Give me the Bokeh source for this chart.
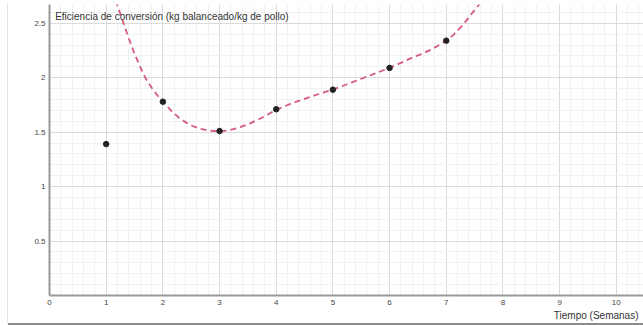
from bokeh.plotting import figure
from bokeh.models import FixedTicker, CustomJSTickFormatter, Label, Title
from bokeh.embed import file_html
from bokeh.resources import INLINE

# Measured data points (week, conversion efficiency)
semanas = [1, 2, 3, 4, 5, 6, 7]
eficiencia = [1.39, 1.78, 1.51, 1.71, 1.89, 2.09, 2.34]

# Fitted dashed curve
curva_x = [1.17, 1.20, 1.30, 1.40, 1.50, 1.60, 1.70, 1.80, 1.90, 2.00, 2.15, 2.30, 2.48,
           2.66, 2.83, 3.00, 3.18, 3.36, 3.54, 3.72, 3.86, 4.00, 4.25, 4.50, 4.75,
           5.00, 5.25, 5.50, 5.75, 6.00, 6.22, 6.42, 6.58, 6.72, 6.86, 7.00, 7.13,
           7.25, 7.34, 7.42, 7.50, 7.57, 7.62]
curva_y = [2.71, 2.66, 2.51, 2.36, 2.22, 2.10, 1.99, 1.91, 1.84, 1.78, 1.695, 1.625, 1.565,
           1.53, 1.513, 1.508, 1.518, 1.545, 1.58, 1.625, 1.665, 1.705, 1.76, 1.805, 1.85,
           1.89, 1.94, 1.99, 2.04, 2.09, 2.14, 2.19, 2.22, 2.255, 2.295, 2.34, 2.395,
           2.46, 2.515, 2.57, 2.62, 2.665, 2.72]

x_ticks = [0, 1, 2, 3, 4, 5, 6, 7, 8, 9, 10]
y_ticks = [0.5, 1, 1.5, 2, 2.5]

titulo = "Eficiencia de conversión (kg balanceado/kg de pollo)"
eje_x = "Tiempo (Semanas)"

FONT = "Liberation Sans"

p = figure(width=635, height=320, x_range=(0, 10.48), y_range=(0, 2.672),
           output_backend="svg", toolbar_location=None,
           min_border_left=41, min_border_right=0, min_border_top=1, min_border_bottom=28,
           background_fill_color="white", border_fill_color="white",
           outline_line_color=None, margin=(3, 0, 0, 8))
p.styles = {"box-shadow": "0 2px 0 #8a8a8a, -1px 0 0 #e2e2e2"}

# grid
minor_x = [i * 0.2 for i in range(0, 53)]
minor_y = [i * 0.1 for i in range(0, 27)]
p.xgrid.ticker = FixedTicker(ticks=x_ticks, minor_ticks=minor_x)
p.ygrid.ticker = FixedTicker(ticks=[0] + y_ticks, minor_ticks=minor_y)
for g in (p.xgrid, p.ygrid):
    g.grid_line_color = "#dadada"
    g.grid_line_width = 1
    g.minor_grid_line_color = "#f1f1f1"
    g.minor_grid_line_width = 1

# axes
p.xaxis.ticker = FixedTicker(ticks=x_ticks, minor_ticks=[])
p.yaxis.ticker = FixedTicker(ticks=y_ticks, minor_ticks=[])
p.xaxis.formatter = CustomJSTickFormatter(code="return tick.toString()")
p.yaxis.formatter = CustomJSTickFormatter(code="return tick.toString()")
for ax in (p.xaxis, p.yaxis):
    ax.axis_line_color = "#9a9a9a"
    ax.axis_line_width = 2
    ax.major_tick_in = 0
    ax.major_tick_out = 0
    ax.minor_tick_in = 0
    ax.minor_tick_out = 0
    ax.major_label_text_font = FONT
    ax.major_label_text_font_size = "8px"
    ax.major_label_text_color = "#444444"
p.xaxis.major_label_standoff = 4
p.yaxis.major_label_standoff = 4

# fitted curve and points
p.line(curva_x, curva_y, line_color="#d65a7a", line_width=1.8, line_dash="6 4")
p.scatter(semanas, eficiencia, size=5.5, color="#222222")

# texts
p.add_layout(Label(x=0.1, y=2.562, text=titulo, text_font=FONT, text_font_size="10px",
                   text_color="#333333", text_baseline="middle", text_align="left"))
p.add_layout(Title(text=eje_x, align="right", offset=5, standoff=0,
                   text_font=FONT, text_font_size="10px", text_font_style="normal",
                   text_color="#333333"), "below")

open("out.html", "w").write(file_html(p, INLINE))
